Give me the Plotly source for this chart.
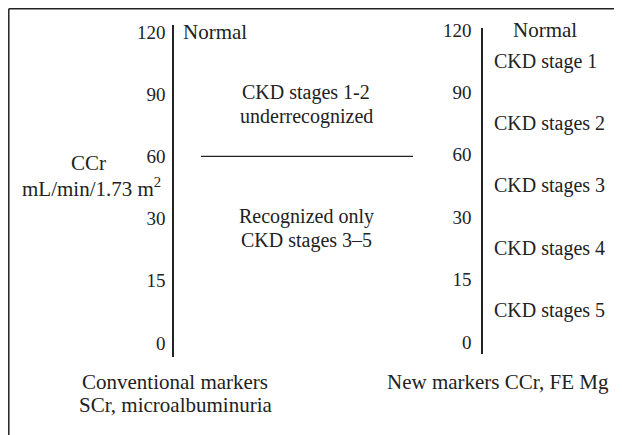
import plotly.graph_objects as go

# ---- data ----
tick_values = [0, 1, 2, 3, 4, 5]
tick_labels = ["0", "15", "30", "60", "90", "120"]

left_title = ["CCr", "mL/min/1.73 m<sup>2</sup>"]
left_normal = "Normal"
left_upper = ["CKD stages 1-2", "underrecognized"]
left_lower = ["Recognized only", "CKD stages 3\u20135"]
left_divider_level = 3  # the 60 mark
left_caption = ["Conventional markers", "SCr, microalbuminuria"]

right_labels = ["Normal", "CKD stage 1", "CKD stages 2", "CKD stages 3", "CKD stages 4", "CKD stages 5"]
right_levels = [5, 4.5, 3.5, 2.5, 1.5, 0.5]
right_caption = "New markers CCr, FE Mg"

W, H = 622, 435
OFF = 8  # page offset of the figure in the browser
FONT = "Liberation Serif"
FS = 21
SFS = 20
TFS = 19
COL = "#222222"


def px(x):
    return (x - OFF) / W


def py(y):
    return 1 - (y - OFF) / H


fig = go.Figure()

fig.add_trace(go.Scatter(x=[0], y=[0], mode="markers", marker=dict(opacity=0),
                         xaxis="x", yaxis="y", hoverinfo="skip", showlegend=False))
fig.add_trace(go.Scatter(x=[0], y=[0], mode="markers", marker=dict(opacity=0),
                         xaxis="x2", yaxis="y2", hoverinfo="skip", showlegend=False))

lt, lb = 25, 357
l_top_idx = (343 - lt) / 62.2
l_bot_idx = (343 - lb) / 62.2
rt, rb = 28, 354
r_top_idx = (342 - rt) / 62.4
r_bot_idx = (342 - rb) / 62.4

axis_common = dict(tickmode="array", tickvals=tick_values, ticktext=tick_labels,
                   showgrid=False, zeroline=False, showline=True, automargin=False,
                   linecolor=COL, linewidth=1.6, ticks="",
                   tickfont=dict(family=FONT, size=TFS, color=COL))

fig.update_layout(
    width=W, height=H,
    margin=dict(l=0, r=0, t=0, b=0, pad=0, autoexpand=False),
    paper_bgcolor="white", plot_bgcolor="rgba(0,0,0,0)",
    showlegend=False,
    xaxis=dict(domain=[px(174), 1], visible=False, range=[0, 1], automargin=False),
    xaxis2=dict(domain=[px(483), 1], visible=False, range=[0, 1], anchor="y2", automargin=False),
    yaxis=dict(domain=[py(lb), py(lt)], range=[l_bot_idx, l_top_idx], anchor="x",
               ticklabelstandoff=3, **axis_common),
    yaxis2=dict(domain=[py(rb), py(rt)], range=[r_bot_idx, r_top_idx], anchor="x2",
                ticklabelstandoff=6, **axis_common),
)

font = dict(family=FONT, size=FS, color=COL)
sfont = dict(family=FONT, size=SFS, color=COL)
ann = []
# outer frame (top and left edges)
fig.add_shape(type="line", xref="paper", yref="paper", x0=0.8 / W, x1=1.02, y0=1 - 0.8 / H, y1=1 - 0.8 / H,
              line=dict(color=COL, width=1.5))
fig.add_shape(type="line", xref="paper", yref="paper", x0=0.8 / W, x1=0.8 / W, y0=1 - 0.8 / H, y1=-0.02,
              line=dict(color=COL, width=1.5))
# divider line at the 60 level on the left panel
fig.add_shape(type="line", xref="paper", yref="y", x0=px(201), x1=px(413),
              y0=left_divider_level, y1=left_divider_level, line=dict(color=COL, width=1.3))

ann.append(dict(text=left_normal, xref="paper", yref="y", x=px(181), y=5,
                xanchor="left", yanchor="middle", font=font))
for line, yy in zip(left_upper, [93, 116]):
    ann.append(dict(text=line, xref="paper", yref="paper", x=px(306), y=py(yy),
                    xanchor="center", yanchor="middle", font=sfont))
for line, yy in zip(left_lower, [217, 240]):
    ann.append(dict(text=line, xref="paper", yref="paper", x=px(306), y=py(yy),
                    xanchor="center", yanchor="middle", font=sfont))
for line, yy, xx in zip(left_title, [163, 187], [88, 91]):
    ann.append(dict(text=line, xref="paper", yref="paper", x=px(xx), y=py(yy),
                    xanchor="center", yanchor="middle", font=font))
for line, yy in zip(left_caption, [382, 405]):
    ann.append(dict(text=line, xref="paper", yref="paper", x=px(175), y=py(yy),
                    xanchor="center", yanchor="middle", font=font))

for lab, lev in zip(right_labels, right_levels):
    x = px(511) if lab == "Normal" else px(492)
    ann.append(dict(text=lab, xref="paper", yref="y2", x=x, y=lev,
                    xanchor="left", yanchor="middle", font=font if lab == "Normal" else sfont))
ann.append(dict(text=right_caption, xref="paper", yref="paper", x=px(498), y=py(382),
                xanchor="center", yanchor="middle", font=font))

for a in ann:
    a.update(showarrow=False, align="center")
fig.update_layout(annotations=ann)

fig.write_html("out.html")
